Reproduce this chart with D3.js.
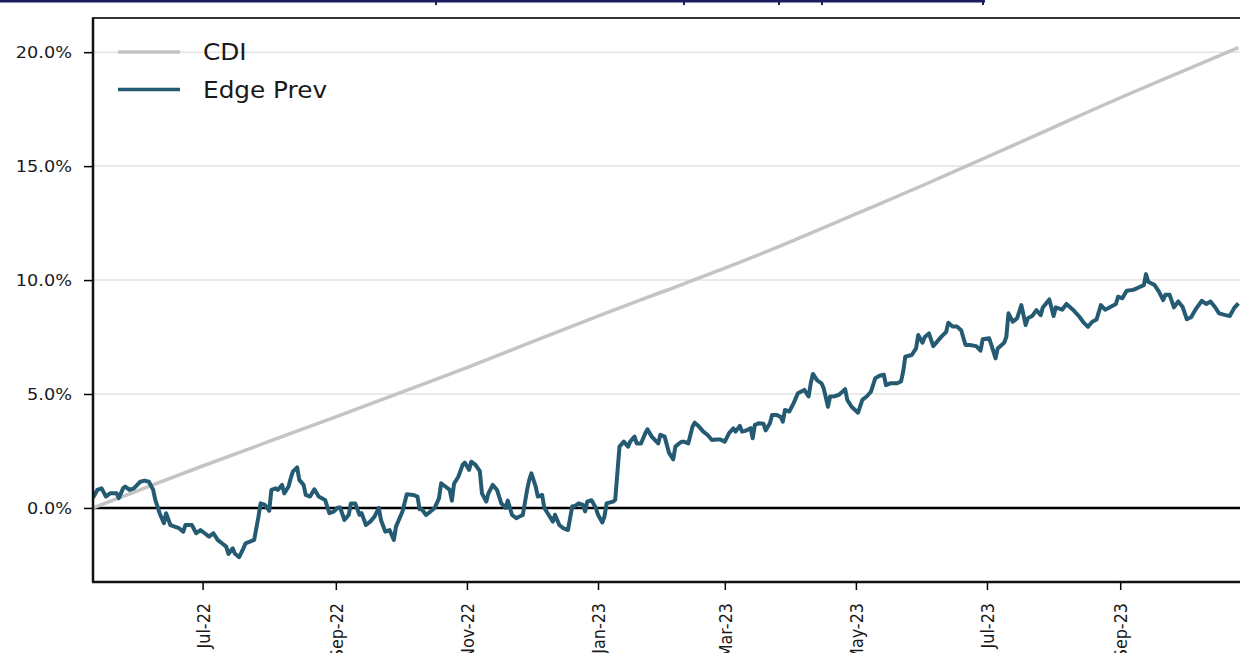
<!DOCTYPE html>
<html>
<head>
<meta charset="utf-8">
<script src="https://cdn.jsdelivr.net/npm/d3@7"></script>
<style>
  body { margin: 0; background: #fff; }
  svg { display: block; font-family: "DejaVu Sans", sans-serif; }
</style>
</head>
<body>
<div id="chart"></div>
<script>
// Edge Prev vs CDI, cumulative return

// Data
const yTicks = [0, 5, 10, 15, 20];
const xTickDates = ['2022-07-01', '2022-09-01', '2022-11-01', '2023-01-01', '2023-03-01', '2023-05-01', '2023-07-01', '2023-09-01'];
const xTickLabels = ['Jul-22', 'Sep-22', 'Nov-22', 'Jan-23', 'Mar-23', 'May-23', 'Jul-23', 'Sep-23'];

const cdiDates = ['2022-05-11', '2022-06-01', '2022-07-01', '2022-08-01', '2022-09-01', '2022-10-01', '2022-11-01', '2022-12-01',
    '2023-01-01', '2023-02-01', '2023-03-01', '2023-04-01', '2023-05-01', '2023-06-01', '2023-07-01', '2023-08-01',
    '2023-09-01', '2023-10-01', '2023-10-26'];
const cdiValues = [0, 0.76, 1.84, 2.92, 4.0, 5.06, 6.16, 7.28, 8.42, 9.52, 10.52, 11.7, 12.9, 14.15, 15.4, 16.7, 18.0, 19.2, 20.2];

const edgeDates = [
    '2022-05-11', '2022-05-13', '2022-05-15', '2022-05-17', '2022-05-18', '2022-05-19', '2022-05-22', '2022-05-23', '2022-05-25', '2022-05-26',
    '2022-05-28', '2022-05-30', '2022-06-02', '2022-06-04', '2022-06-06', '2022-06-08', '2022-06-09', '2022-06-11', '2022-06-13', '2022-06-14',
    '2022-06-16', '2022-06-18', '2022-06-20', '2022-06-22', '2022-06-23', '2022-06-26', '2022-06-28', '2022-06-30', '2022-07-02', '2022-07-04',
    '2022-07-06', '2022-07-08', '2022-07-10', '2022-07-12', '2022-07-13', '2022-07-15', '2022-07-16', '2022-07-18', '2022-07-20', '2022-07-21',
    '2022-07-23', '2022-07-25', '2022-07-27', '2022-07-28', '2022-07-30', '2022-08-01', '2022-08-02', '2022-08-04', '2022-08-05', '2022-08-07',
    '2022-08-08', '2022-08-10', '2022-08-11', '2022-08-12', '2022-08-14', '2022-08-15', '2022-08-17', '2022-08-18', '2022-08-20', '2022-08-22',
    '2022-08-24', '2022-08-27', '2022-08-29', '2022-08-31', '2022-09-02', '2022-09-03', '2022-09-05', '2022-09-07', '2022-09-08', '2022-09-10',
    '2022-09-12', '2022-09-13', '2022-09-15', '2022-09-17', '2022-09-19', '2022-09-21', '2022-09-22', '2022-09-24', '2022-09-26', '2022-09-28',
    '2022-09-29', '2022-10-02', '2022-10-04', '2022-10-07', '2022-10-09', '2022-10-10', '2022-10-11', '2022-10-13', '2022-10-15', '2022-10-17',
    '2022-10-19', '2022-10-20', '2022-10-22', '2022-10-24', '2022-10-25', '2022-10-26', '2022-10-28', '2022-10-30', '2022-10-31', '2022-11-02',
    '2022-11-03', '2022-11-05', '2022-11-07', '2022-11-08', '2022-11-10', '2022-11-11', '2022-11-13', '2022-11-15', '2022-11-17', '2022-11-19',
    '2022-11-20', '2022-11-22', '2022-11-24', '2022-11-25', '2022-11-27', '2022-11-29', '2022-11-30', '2022-12-01', '2022-12-03', '2022-12-04',
    '2022-12-06', '2022-12-07', '2022-12-09', '2022-12-11', '2022-12-12', '2022-12-14', '2022-12-16', '2022-12-18', '2022-12-20', '2022-12-21',
    '2022-12-23', '2022-12-25', '2022-12-26', '2022-12-27', '2022-12-29', '2022-12-31', '2023-01-01', '2023-01-03', '2023-01-04', '2023-01-05',
    '2023-01-08', '2023-01-09', '2023-01-11', '2023-01-13', '2023-01-15', '2023-01-16', '2023-01-18', '2023-01-19', '2023-01-21', '2023-01-23',
    '2023-01-24', '2023-01-26', '2023-01-29', '2023-01-30', '2023-02-01', '2023-02-03', '2023-02-05', '2023-02-06', '2023-02-08', '2023-02-09',
    '2023-02-10', '2023-02-12', '2023-02-14', '2023-02-15', '2023-02-17', '2023-02-19', '2023-02-21', '2023-02-23', '2023-02-25', '2023-02-27',
    '2023-03-01', '2023-03-03', '2023-03-05', '2023-03-06', '2023-03-08', '2023-03-09', '2023-03-11', '2023-03-13', '2023-03-14', '2023-03-15',
    '2023-03-17', '2023-03-19', '2023-03-20', '2023-03-22', '2023-03-23', '2023-03-25', '2023-03-27', '2023-03-28', '2023-03-29', '2023-03-31',
    '2023-04-02', '2023-04-04', '2023-04-07', '2023-04-09', '2023-04-10', '2023-04-11', '2023-04-13', '2023-04-15', '2023-04-16', '2023-04-18',
    '2023-04-19', '2023-04-21', '2023-04-23', '2023-04-26', '2023-04-27', '2023-04-29', '2023-05-02', '2023-05-04', '2023-05-06', '2023-05-08',
    '2023-05-10', '2023-05-12', '2023-05-14', '2023-05-15', '2023-05-17', '2023-05-20', '2023-05-22', '2023-05-23', '2023-05-24', '2023-05-27',
    '2023-05-29', '2023-05-30', '2023-06-01', '2023-06-02', '2023-06-04', '2023-06-06', '2023-06-08', '2023-06-10', '2023-06-12', '2023-06-13',
    '2023-06-15', '2023-06-17', '2023-06-19', '2023-06-21', '2023-06-23', '2023-06-26', '2023-06-28', '2023-06-29', '2023-07-02', '2023-07-03',
    '2023-07-05', '2023-07-06', '2023-07-09', '2023-07-10', '2023-07-11', '2023-07-13', '2023-07-15', '2023-07-17', '2023-07-19', '2023-07-20',
    '2023-07-22', '2023-07-24', '2023-07-26', '2023-07-27', '2023-07-30', '2023-08-01', '2023-08-02', '2023-08-05', '2023-08-07', '2023-08-10',
    '2023-08-13', '2023-08-15', '2023-08-17', '2023-08-19', '2023-08-21', '2023-08-23', '2023-08-25', '2023-08-27', '2023-08-30', '2023-08-31',
    '2023-09-02', '2023-09-04', '2023-09-07', '2023-09-09', '2023-09-12', '2023-09-13', '2023-09-14', '2023-09-17', '2023-09-19', '2023-09-21',
    '2023-09-22', '2023-09-24', '2023-09-26', '2023-09-28', '2023-09-30', '2023-10-02', '2023-10-04', '2023-10-06', '2023-10-09', '2023-10-11',
    '2023-10-13', '2023-10-15', '2023-10-17', '2023-10-20', '2023-10-22', '2023-10-24', '2023-10-26'
];
const edgeValues = [
    0.45, 0.79, 0.86, 0.50, 0.57, 0.64, 0.64, 0.43, 0.86, 0.94,
    0.79, 0.86, 1.15, 1.20, 1.15, 0.79, 0.35, -0.23, -0.67, -0.23,
    -0.75, -0.82, -0.89, -1.04, -0.75, -0.75, -1.11, -0.97, -1.11, -1.26,
    -1.11, -1.40, -1.55, -1.70, -2.02, -1.77, -2.00, -2.16, -1.77, -1.55,
    -1.48, -1.40, -0.38, 0.20, 0.13, -0.12, 0.79, 0.86, 0.79, 1.01,
    0.64, 0.94, 1.30, 1.59, 1.78, 1.23, 1.01, 0.57, 0.50, 0.82,
    0.50, 0.35, -0.23, -0.16, 0.02, 0.02, -0.53, -0.30, 0.20, 0.20,
    -0.30, -0.23, -0.75, -0.60, -0.38, 0.00, -0.53, -1.04, -0.97, -1.40,
    -0.82, -0.16, 0.60, 0.57, 0.50, -0.06, -0.06, -0.31, -0.16, 0.00,
    0.42, 1.08, 0.94, 0.79, 0.32, 1.06, 1.37, 1.89, 1.99, 1.67,
    2.03, 1.89, 1.62, 0.64, 0.28, 0.64, 1.01, 0.79, 0.20, 0.00,
    0.32, -0.31, -0.45, -0.40, -0.31, 0.79, 1.23, 1.52, 0.94, 0.50,
    0.57, 0.00, -0.30, -0.60, -0.30, -0.75, -0.90, -0.97, 0.07, 0.07,
    0.20, 0.13, -0.15, 0.28, 0.34, 0.00, -0.30, -0.64, -0.38, 0.20,
    0.28, 0.35, 2.69, 2.91, 2.69, 2.91, 3.13, 2.83, 2.83, 3.28,
    3.45, 3.13, 2.83, 3.21, 3.13, 2.43, 2.13, 2.69, 2.85, 2.91,
    2.91, 2.83, 3.57, 3.74, 3.57, 3.35, 3.20, 2.98, 3.00, 3.00,
    2.91, 3.28, 3.49, 3.35, 3.60, 3.35, 3.40, 3.50, 3.06, 3.65,
    3.72, 3.70, 3.40, 3.72, 4.08, 4.08, 4.00, 3.79, 4.30, 4.23,
    4.59, 5.03, 5.18, 4.89, 5.47, 5.88, 5.60, 5.47, 5.26, 4.44,
    4.89, 4.90, 4.96, 5.21, 4.74, 4.44, 4.18, 4.74, 4.89, 5.10,
    5.69, 5.80, 5.85, 5.39, 5.47, 5.47, 5.55, 5.98, 6.64, 6.71,
    7.00, 7.59, 7.25, 7.49, 7.66, 7.10, 7.32, 7.54, 7.72, 8.13,
    7.96, 7.96, 7.80, 7.15, 7.15, 7.10, 6.90, 7.40, 7.45, 7.17,
    6.56, 7.00, 7.25, 7.50, 8.54, 8.17, 8.32, 8.90, 8.03, 8.32,
    8.42, 8.68, 8.46, 8.80, 9.15, 8.42, 8.80, 8.70, 8.95, 8.70,
    8.39, 8.13, 7.95, 8.17, 8.27, 8.90, 8.70, 8.80, 8.95, 9.27,
    9.20, 9.53, 9.57, 9.65, 9.78, 10.26, 9.93, 9.78, 9.49, 9.12,
    9.35, 9.35, 8.80, 9.06, 8.83, 8.28, 8.37, 8.70, 9.09, 8.95,
    9.06, 8.83, 8.54, 8.46, 8.42, 8.77, 8.98
];

// Configuration
const W = 1240, H = 653;
const plot = { left: 93, right: 1247, top: 18, bottom: 582 };
const cdiColor = '#c4c4c4';
const edgeColor = '#245b73';

const parse = d3.timeParse('%Y-%m-%d');

const x = d3.scaleTime()
    .domain([parse('2022-05-11'), parse('2023-10-30')])
    .range([plot.left, plot.right]);

const y = d3.scaleLinear()
    .domain([-3.25, 21.5])
    .range([plot.bottom, plot.top]);

const svg = d3.select('#chart')
    .append('svg')
    .attr('width', W)
    .attr('height', H);

// Strip of the table border above the chart
svg.append('rect')
    .attr('x', 0).attr('y', 0)
    .attr('width', 985).attr('height', 2.5)
    .attr('fill', '#1d1d5e');
[436, 684, 779, 822, 983].forEach(px => {
    svg.append('rect')
        .attr('x', px - 1).attr('y', 0)
        .attr('width', 2).attr('height', 5)
        .attr('fill', '#1d1d5e');
});

// Grid lines
svg.append('g')
    .selectAll('line')
    .data(yTicks)
    .enter()
    .append('line')
    .attr('x1', plot.left)
    .attr('x2', plot.right)
    .attr('y1', d => y(d))
    .attr('y2', d => y(d))
    .attr('stroke', '#e3e3e3')
    .attr('stroke-width', 1.5);

// Clip for the series
svg.append('clipPath')
    .attr('id', 'plot-clip')
    .append('rect')
    .attr('x', plot.left)
    .attr('y', plot.top)
    .attr('width', plot.right - plot.left)
    .attr('height', plot.bottom - plot.top);

// Zero line
svg.append('line')
    .attr('x1', plot.left)
    .attr('x2', plot.right)
    .attr('y1', y(0))
    .attr('y2', y(0))
    .attr('stroke', '#000')
    .attr('stroke-width', 2.5);

const line = d3.line()
    .x(d => x(d[0]))
    .y(d => y(d[1]));

const cdiData = cdiDates.map((d, i) => [parse(d), cdiValues[i]]);
const edgeData = edgeDates.map((d, i) => [parse(d), edgeValues[i]]);

svg.append('path')
    .datum(cdiData)
    .attr('clip-path', 'url(#plot-clip)')
    .attr('d', line.curve(d3.curveMonotoneX))
    .attr('fill', 'none')
    .attr('stroke', cdiColor)
    .attr('stroke-width', 3.5);

svg.append('path')
    .datum(edgeData)
    .attr('clip-path', 'url(#plot-clip)')
    .attr('d', line.curve(d3.curveLinear))
    .attr('fill', 'none')
    .attr('stroke', edgeColor)
    .attr('stroke-width', 4)
    .attr('stroke-linejoin', 'round');

// Axes
const yAxis = d3.axisLeft(y)
    .tickValues(yTicks)
    .tickSize(9)
    .tickFormat(d => d.toFixed(1) + '%');

const yG = svg.append('g')
    .attr('transform', `translate(${plot.left},0)`)
    .call(yAxis);
yG.select('.domain').remove();
yG.selectAll('.tick line').attr('stroke', '#000').attr('stroke-width', 1.5);
yG.selectAll('.tick text')
    .attr('x', 0)
    .attr('dy', '0.36em')
    .attr('transform', 'translate(-21,0) scale(1.18,1)')
    .attr('text-anchor', 'end')
    .attr('fill', '#1a1a1a')
    .style('font-size', '15px')
    .style('font-family', '"DejaVu Sans", sans-serif');

const xAxis = d3.axisBottom(x)
    .tickValues(xTickDates.map(parse))
    .tickSize(8)
    .tickFormat((d, i) => xTickLabels[i]);

const xG = svg.append('g')
    .attr('transform', `translate(0,${plot.bottom})`)
    .call(xAxis);
xG.select('.domain').remove();
xG.selectAll('.tick line').attr('stroke', '#000').attr('stroke-width', 1.5);
xG.selectAll('.tick text')
    .attr('x', 0)
    .attr('y', 0)
    .attr('dy', '0.35em')
    .attr('transform', 'translate(0,21) scale(1.15,1) rotate(-90)')
    .attr('text-anchor', 'end')
    .attr('fill', '#1a1a1a')
    .style('font-size', '16px')
    .style('font-family', '"DejaVu Sans", sans-serif');

// Frame
svg.append('line')
    .attr('x1', plot.left - 1).attr('x2', plot.right)
    .attr('y1', plot.top).attr('y2', plot.top)
    .attr('stroke', '#333').attr('stroke-width', 2);
svg.append('line')
    .attr('x1', plot.left).attr('x2', plot.left)
    .attr('y1', plot.top).attr('y2', plot.bottom)
    .attr('stroke', '#111').attr('stroke-width', 2.5);
svg.append('line')
    .attr('x1', plot.left - 1).attr('x2', plot.right)
    .attr('y1', plot.bottom).attr('y2', plot.bottom)
    .attr('stroke', '#111').attr('stroke-width', 2.5);

// Legend
const legendItems = [
    { name: 'CDI', color: cdiColor, y: 52 },
    { name: 'Edge Prev', color: edgeColor, y: 89.5 }
];
const legend = svg.append('g');
legendItems.forEach(item => {
    legend.append('line')
        .attr('x1', 118).attr('x2', 180)
        .attr('y1', item.y).attr('y2', item.y)
        .attr('stroke', item.color)
        .attr('stroke-width', 3.5);
    legend.append('text')
        .attr('transform', `translate(203,${item.y}) scale(1.1,1)`)
        .attr('dy', '0.36em')
        .attr('fill', '#1a1a1a')
        .style('font-size', '22.5px')
        .text(item.name);
});
</script>
</body>
</html>
